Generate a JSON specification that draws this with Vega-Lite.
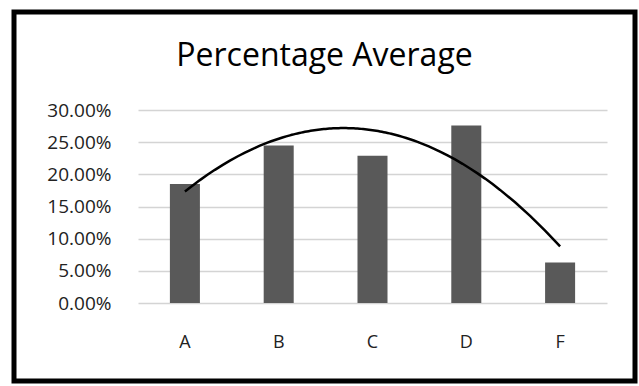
{
  "$schema": "https://vega.github.io/schema/vega-lite/v6.json",
  "width": 621,
  "height": 369,
  "autosize": {"type": "none"},
  "padding": {"left": 14, "top": 12, "right": 4, "bottom": 5},
  "background": "white",
  "title": {
    "text": "Percentage Average",
    "font": "Open Sans",
    "fontSize": 32,
    "fontWeight": "normal",
    "color": "#000000",
    "anchor": "middle",
    "frame": "group",
    "baseline": "alphabetic",
    "offset": -86
  },
  "config": {
    "font": "Open Sans",
    "view": {"stroke": "#000000", "strokeWidth": 5}
  },
  "data": {
    "values": [
      {"grade": "A", "idx": 1, "pct": 0.185},
      {"grade": "B", "idx": 2, "pct": 0.245},
      {"grade": "C", "idx": 3, "pct": 0.229},
      {"grade": "D", "idx": 4, "pct": 0.276},
      {"grade": "F", "idx": 5, "pct": 0.063}
    ]
  },
  "layer": [
    {
      "mark": {"type": "bar", "color": "#595959"},
      "encoding": {
        "x": {
          "field": "grade",
          "type": "nominal",
          "sort": null,
          "scale": {"range": [124, 593], "paddingInner": 0.68, "paddingOuter": 0.34},
          "axis": {
            "title": null,
            "orient": "bottom",
            "offset": -78,
            "domain": false,
            "ticks": false,
            "grid": false,
            "labelAngle": 0,
            "labelPadding": 30,
            "labelFont": "Open Sans",
            "labelFontSize": 18,
            "labelColor": "#222222"
          }
        },
        "y": {
          "field": "pct",
          "type": "quantitative",
          "scale": {"domain": [0, 0.3], "range": [291, 98], "nice": false, "zero": true},
          "axis": {
            "title": null,
            "format": ".2%",
            "values": [0, 0.05, 0.1, 0.15, 0.2, 0.25, 0.3],
            "offset": -124,
            "domain": false,
            "ticks": false,
            "labelPadding": 27,
            "labelFont": "Open Sans",
            "labelFontSize": 19,
            "labelColor": "#222222",
            "grid": true,
            "gridColor": "#d4d4d4",
            "gridWidth": 1.5
          }
        }
      }
    },
    {
      "transform": [
        {"regression": "pct", "on": "idx", "method": "poly", "order": 2}
      ],
      "mark": {"type": "line", "color": "#000000", "strokeWidth": 2.5},
      "encoding": {
        "x": {
          "field": "idx",
          "type": "quantitative",
          "scale": {"domain": [0.5, 5.5], "range": [124, 593], "nice": false, "zero": false},
          "axis": null
        },
        "y": {"field": "pct", "type": "quantitative"}
      }
    }
  ],
  "resolve": {"scale": {"x": "independent"}}
}
